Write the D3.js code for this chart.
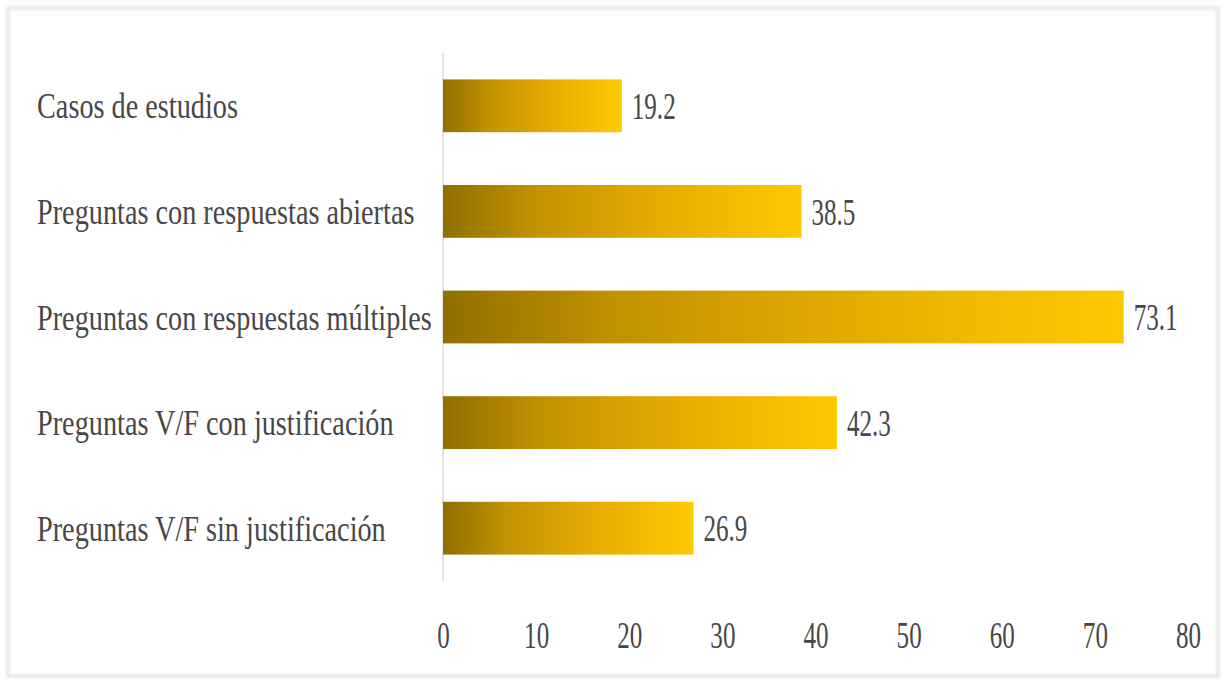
<!DOCTYPE html>
<html>
<head>
<meta charset="utf-8">
<script src="https://cdn.jsdelivr.net/npm/d3@7"></script>
<style>
  html, body { margin: 0; padding: 0; background: #ffffff; }
  svg { display: block; }
  text { font-family: "Liberation Serif", "DejaVu Serif", serif; fill: #474747; }
</style>
</head>
<body>
<svg id="chart" width="1230" height="688"></svg>
<script>
// Evaluation instruments used (percentage of responses)
const categories = [
  "Casos de estudios",
  "Preguntas con respuestas abiertas",
  "Preguntas con respuestas múltiples",
  "Preguntas V/F con justificación",
  "Preguntas V/F sin justificación"
];
const values = [19.2, 38.5, 73.1, 42.3, 26.9];
const tickValues = [0, 10, 20, 30, 40, 50, 60, 70, 80];

const svg = d3.select("#chart");
const W = 1230, H = 688;

// narrow, tall lettering: horizontal squeeze applied around an anchor x
const squeeze = (ax, s) => `translate(${ax},0) scale(${s},1) translate(${-ax},0)`;

const defs = svg.append("defs");
const blur = defs.append("filter").attr("id", "soft")
  .attr("x", "-5%").attr("y", "-5%").attr("width", "110%").attr("height", "110%");
blur.append("feGaussianBlur").attr("stdDeviation", 1.6);

// soft outer frame
svg.append("rect")
  .attr("x", 8).attr("y", 8).attr("width", 1210).attr("height", 668)
  .attr("fill", "none").attr("stroke", "#dedede").attr("stroke-width", 2.5)
  .attr("filter", "url(#soft)");

// bar gradient: dark gold to bright yellow across each bar
const grad = defs.append("linearGradient").attr("id", "barGrad")
  .attr("x1", "0%").attr("x2", "100%").attr("y1", "0%").attr("y2", "0%");
grad.append("stop").attr("offset", "0%").attr("stop-color", "#906f00");
grad.append("stop").attr("offset", "25%").attr("stop-color", "#c09200");
grad.append("stop").attr("offset", "50%").attr("stop-color", "#dca400");
grad.append("stop").attr("offset", "75%").attr("stop-color", "#efb800");
grad.append("stop").attr("offset", "100%").attr("stop-color", "#ffc900");

const margin = { left: 443, right: 42, top: 53, bottom: 107 };

const x = d3.scaleLinear()
  .domain([0, 80])
  .range([margin.left, W - margin.right]);

const y = d3.scaleBand()
  .domain(categories)
  .range([margin.top, H - margin.bottom])
  .paddingInner(0.5)
  .paddingOuter(0.25);

// vertical axis line at zero
svg.append("line")
  .attr("x1", x(0)).attr("x2", x(0))
  .attr("y1", y.range()[0]).attr("y2", y.range()[1])
  .attr("stroke", "#d9d9d9").attr("stroke-width", 1.5);

// bars
svg.append("g").selectAll("rect")
  .data(values)
  .join("rect")
  .attr("x", x(0))
  .attr("y", (d, i) => y(categories[i]))
  .attr("width", d => x(d) - x(0))
  .attr("height", y.bandwidth())
  .attr("fill", "url(#barGrad)");

// value labels
svg.append("g").selectAll("text")
  .data(values)
  .join("text")
  .attr("x", d => x(d) + 10)
  .attr("y", (d, i) => y(categories[i]) + y.bandwidth() / 2)
  .attr("dy", "0.35em")
  .attr("font-size", 38)
  .attr("transform", d => squeeze(x(d) + 10, 0.66))
  .text(d => d.toFixed(1));

// category labels, left aligned
const labelX = 37;
svg.append("g").selectAll("text")
  .data(categories)
  .join("text")
  .attr("x", labelX)
  .attr("y", d => y(d) + y.bandwidth() / 2)
  .attr("dy", "0.35em")
  .attr("font-size", 36)
  .attr("transform", squeeze(labelX, 0.785))
  .text(d => d);

// bottom axis tick labels
const axis = d3.axisBottom(x).tickValues(tickValues).tickSize(0).tickPadding(0)
  .tickFormat(d3.format("d"));
const gx = svg.append("g").attr("transform", `translate(0, 635)`).call(axis);
gx.select(".domain").remove();
gx.selectAll(".tick text")
  .attr("y", 0)
  .attr("dy", "0.35em")
  .attr("font-size", 38)
  .attr("font-family", "Liberation Serif, DejaVu Serif, serif")
  .attr("fill", "#474747")
  .attr("transform", "scale(0.66,1)");
</script>
</body>
</html>
